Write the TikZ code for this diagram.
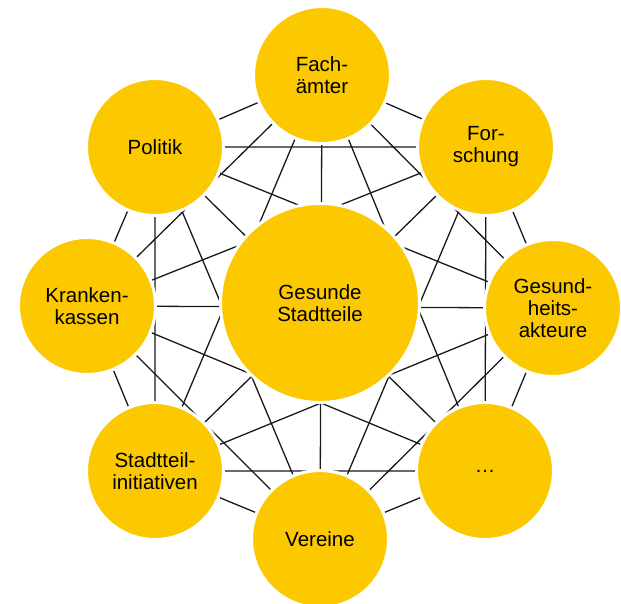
\documentclass[tikz,border=0pt]{standalone}
\usepackage{fontspec}
\setmainfont{Liberation Sans}
\usetikzlibrary{backgrounds}
\definecolor{sunyellow}{RGB}{252,201,0}

\begin{document}
\begin{tikzpicture}[
    x=1pt, y=1pt,
    actor/.style = {circle, fill=sunyellow, draw=white, line width=3pt, minimum size=137pt,
                    inner sep=0pt, align=center, font=\fontsize{20.5}{22}\selectfont},
    hub/.style = {actor, minimum size=199pt},
    link/.style = {line width=1.3pt, black!90}
]
\useasboundingbox (0,0) rectangle (621,-603);

% centre
\node[hub] (hub) at (320,-303) {Gesunde\\Stadtteile};

% ring of partners
\node[actor] (fach) at (322,-75) {Fach-\\ämter};
\node[actor] (forschung) at (486,-147) {For-\\schung};
\node[actor] (gesundheit) at (553,-308) {Gesund-\\heits-\\akteure};
\node[actor] (weitere) at (485,-471) {…};
\node[actor] (vereine) at (320,-539) {Vereine};
\node[actor] (initiativen) at (155,-471) {Stadtteil-\\initiativen};
\node[actor] (kassen) at (87,-306) {Kranken-\\kassen};
\node[actor] (politik) at (155,-147) {Politik};

% every partner linked with every other one, behind the circles
\begin{scope}[on background layer]
\draw[link] (fach) -- (forschung) (fach) -- (gesundheit) (fach) -- (weitere) (fach) -- (vereine)
            (fach) -- (initiativen) (fach) -- (kassen) (fach) -- (politik);
\draw[link] (forschung) -- (gesundheit) (forschung) -- (weitere) (forschung) -- (vereine)
            (forschung) -- (initiativen) (forschung) -- (kassen) (forschung) -- (politik);
\draw[link] (gesundheit) -- (weitere) (gesundheit) -- (vereine) (gesundheit) -- (initiativen)
            (gesundheit) -- (kassen) (gesundheit) -- (politik);
\draw[link] (weitere) -- (vereine) (weitere) -- (initiativen) (weitere) -- (kassen) (weitere) -- (politik);
\draw[link] (vereine) -- (initiativen) (vereine) -- (kassen) (vereine) -- (politik);
\draw[link] (initiativen) -- (kassen) (initiativen) -- (politik);
\draw[link] (kassen) -- (politik);
\end{scope}

\end{tikzpicture}
\end{document}
